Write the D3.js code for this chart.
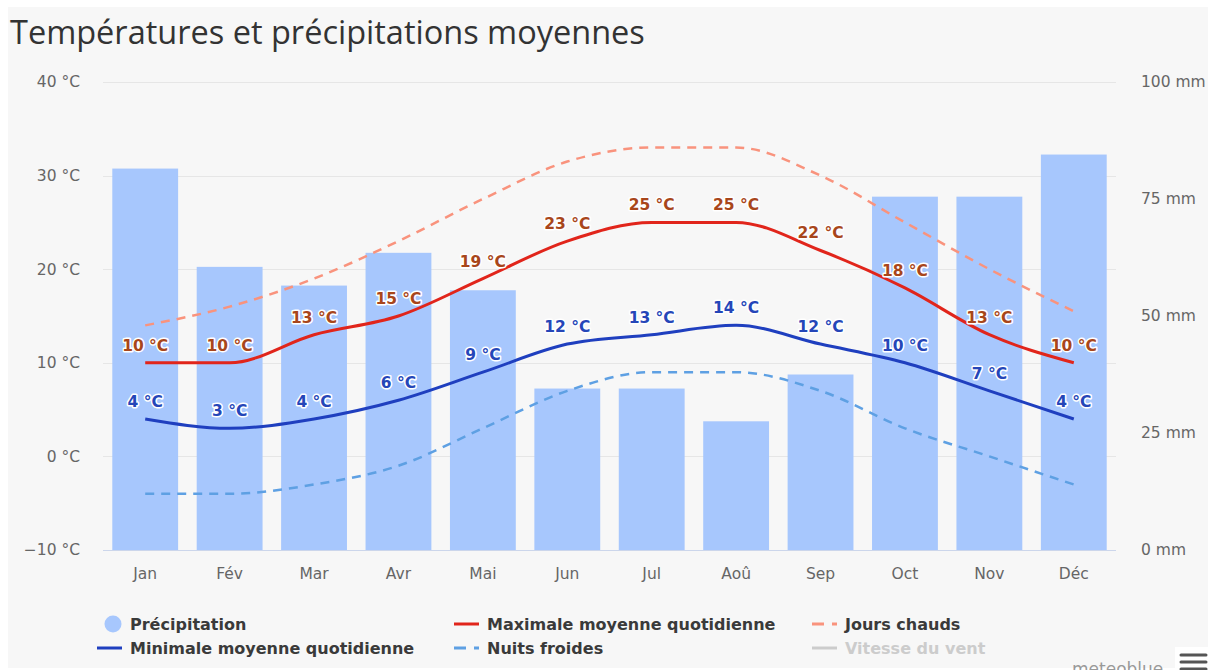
<!DOCTYPE html>
<html>
<head>
<meta charset="utf-8">
<script src="https://cdn.jsdelivr.net/npm/d3@7"></script>
<style>
  html, body { margin: 0; padding: 0; background: #fff; }
  svg { display: block; }
</style>
</head>
<body>
<svg width="1208" height="670"></svg>
<script>
// valeurs
var months = ["Jan", "Fév", "Mar", "Avr", "Mai", "Jun", "Jul", "Aoû", "Sep", "Oct", "Nov", "Déc"];
var precip = [81.5, 60.5, 56.5, 63.5, 55.5, 34.5, 34.5, 27.5, 37.5, 75.5, 75.5, 84.5];
var tMax = [10, 10, 13, 15, 19, 23, 25, 25, 22, 18, 13, 10];
var tMin = [4, 3, 4, 6, 9, 12, 13, 14, 12, 10, 7, 4];
var hotDays = [14, 16, 19, 23, 27.5, 31.5, 33, 33, 30, 25, 20, 15.5];
var coldNights = [-4, -4, -3, -1, 3, 7, 9, 9, 7, 3, 0, -3];
var tempTicks = [-10, 0, 10, 20, 30, 40];
var precipTicks = [0, 25, 50, 75, 100];

var svg = d3.select("svg"),
    plotLeft = 103, plotRight = 1116, plotTop = 82, plotBottom = 550;

// fond du panneau
svg.append("rect").attr("x", 8).attr("y", 7).attr("width", 1200).attr("height", 661).attr("fill", "#f7f7f7");

svg.append("text")
    .attr("x", 10).attr("y", 44)
    .attr("font-family", "Open Sans, sans-serif")
    .attr("font-size", 32.5)
    .attr("fill", "#333")
    .text("Températures et précipitations moyennes");

var x = d3.scaleBand().domain(months).range([plotLeft, plotRight]).paddingInner(0.22).paddingOuter(0.11),
    yT = d3.scaleLinear().domain([-10, 40]).range([plotBottom, plotTop]),
    yP = d3.scaleLinear().domain([0, 100]).range([plotBottom, plotTop]);

var cx = function(i) { return x(months[i]) + x.bandwidth() / 2; };

// grille
svg.append("g")
  .selectAll("line")
  .data(tempTicks.slice(1))
  .enter().append("line")
    .attr("x1", plotLeft).attr("x2", plotRight)
    .attr("y1", function(d) { return Math.round(yT(d)) + 0.5; })
    .attr("y2", function(d) { return Math.round(yT(d)) + 0.5; })
    .attr("stroke", "#e6e6e6");

// axes
var axisL = svg.append("g")
    .attr("transform", "translate(" + plotLeft + ",0)")
    .call(d3.axisLeft(yT).tickValues(tempTicks).tickSize(0).tickPadding(23)
      .tickFormat(function(d) { return (d < 0 ? "\u2212" + (-d) : d) + " °C"; }));
var axisR = svg.append("g")
    .attr("transform", "translate(" + plotRight + ",0)")
    .call(d3.axisRight(yP).tickValues(precipTicks).tickSize(0).tickPadding(25).tickFormat(function(d) { return d + " mm"; }));
var axisB = svg.append("g")
    .attr("transform", "translate(0," + plotBottom + ")")
    .call(d3.axisBottom(x).tickSize(0).tickPadding(18));

[axisL, axisR, axisB].forEach(function(a) {
  a.select(".domain").remove();
  a.selectAll("text")
    .attr("font-family", "DejaVu Sans, sans-serif")
    .attr("font-size", 15.5)
    .attr("fill", "#666");
});

// barres de précipitation
svg.append("g")
  .selectAll("rect")
  .data(precip)
  .enter().append("rect")
    .attr("x", function(d, i) { return x(months[i]); })
    .attr("y", function(d) { return yP(d); })
    .attr("width", x.bandwidth())
    .attr("height", function(d) { return plotBottom - yP(d); })
    .attr("fill", "#a7c7fd");

svg.append("line")
    .attr("x1", plotLeft).attr("x2", plotRight)
    .attr("y1", plotBottom + 0.5).attr("y2", plotBottom + 0.5)
    .attr("stroke", "#ccd6eb");

var line = d3.line()
    .x(function(d, i) { return cx(i); })
    .y(function(d) { return yT(d); })
    .curve(d3.curveMonotoneX);

var series = [
  {data: coldNights, color: "#5ea0e3", width: 2.5, dash: "9,7"},
  {data: hotDays, color: "#f9937d", width: 2.5, dash: "9,7"},
  {data: tMin, color: "#1f3fbf", width: 3, dash: null},
  {data: tMax, color: "#e1251b", width: 3, dash: null}
];

series.forEach(function(s) {
  svg.append("path")
    .datum(s.data)
    .attr("d", line)
    .attr("fill", "none")
    .attr("stroke", s.color)
    .attr("stroke-width", s.width)
    .attr("stroke-dasharray", s.dash);
});

// étiquettes des températures
function labels(data, color) {
  svg.append("g")
    .selectAll("text")
    .data(data)
    .enter().append("text")
      .attr("x", function(d, i) { return cx(i); })
      .attr("y", function(d) { return yT(d) - 12; })
      .attr("text-anchor", "middle")
      .attr("font-family", "DejaVu Sans, sans-serif")
      .attr("font-size", 15.5)
      .attr("font-weight", "bold")
      .attr("fill", color)
      .attr("stroke", "#fff")
      .attr("stroke-width", 3)
      .attr("stroke-linejoin", "round")
      .attr("paint-order", "stroke")
      .text(function(d) { return d + " °C"; });
}
labels(tMax, "#a8461b");
labels(tMin, "#2546b8");

// légende
var legend = [
  {name: "Précipitation", type: "circle", color: "#a7c7fd", col: 0, row: 0},
  {name: "Maximale moyenne quotidienne", type: "line", color: "#e1251b", col: 1, row: 0},
  {name: "Jours chauds", type: "dash", color: "#f9937d", col: 2, row: 0},
  {name: "Minimale moyenne quotidienne", type: "line", color: "#1f3fbf", col: 0, row: 1},
  {name: "Nuits froides", type: "dash", color: "#5ea0e3", col: 1, row: 1},
  {name: "Vitesse du vent", type: "line", color: "#cccccc", col: 2, row: 1, hidden: true}
];
var colX = [97, 454, 812];

var lg = svg.append("g")
  .selectAll("g")
  .data(legend)
  .enter().append("g")
    .attr("transform", function(d) { return "translate(" + colX[d.col] + "," + (624 + d.row * 24) + ")"; });

lg.each(function(d) {
  var g = d3.select(this);
  if (d.type == "circle") {
    g.append("circle").attr("cx", 16).attr("cy", 0).attr("r", 8.5).attr("fill", d.color);
  } else if (d.type == "line") {
    g.append("line").attr("x1", 0).attr("x2", 25).attr("y1", 0).attr("y2", 0)
      .attr("stroke", d.color).attr("stroke-width", 3);
  } else {
    g.append("line").attr("x1", 0).attr("x2", 25).attr("y1", 0).attr("y2", 0)
      .attr("stroke", d.color).attr("stroke-width", 3).attr("stroke-dasharray", "12,8");
  }
  g.append("text")
    .attr("x", 33)
    .attr("y", 6)
    .attr("font-family", "DejaVu Sans, sans-serif")
    .attr("font-size", 16)
    .attr("font-weight", "bold")
    .attr("fill", d.hidden ? "#cccccc" : "#3a3a3a")
    .text(d.name);
});

// crédit
svg.append("text")
    .attr("x", 1072).attr("y", 675)
    .attr("font-family", "DejaVu Sans, sans-serif")
    .attr("font-size", 17)
    .attr("fill", "#999")
    .text("meteoblue");

svg.append("rect").attr("x", 1175).attr("y", 647).attr("width", 33).attr("height", 23).attr("fill", "#fff");
[655, 662, 669].forEach(function(yy) {
  svg.append("line").attr("x1", 1181).attr("x2", 1206).attr("y1", yy).attr("y2", yy)
    .attr("stroke", "#555").attr("stroke-width", 3).attr("stroke-linecap", "round");
});
</script>
</body>
</html>
